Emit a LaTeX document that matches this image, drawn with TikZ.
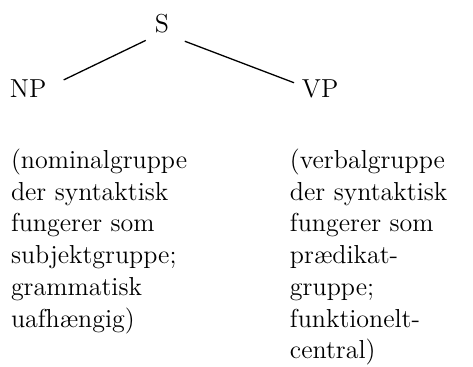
\documentclass[tikz,border=0pt]{standalone}
\tikzset{
  cat/.style = {inner sep=0pt, outer sep=0pt,
                font=\fontsize{13}{15.85}\selectfont},
  gloss/.style = {cat, align=left, anchor=north west},
  branch/.style = {line width=0.65pt}
}

\begin{document}
\begin{tikzpicture}[x=0.5pt, y=-0.5pt]
	\useasboundingbox (0,0) rectangle (473,366);

	% Tree
	\node[cat, anchor=base] (S) at (162,32) {S};
	\node[cat, anchor=base west] (NP) at (10,97) {NP};
	\node[cat, anchor=base west] (VP) at (302,97) {VP};

	% Branches
	\draw[branch, shorten <=9pt, shorten >=19.7pt] (S.south) -- (NP.base);
	\draw[branch, shorten <=12.2pt, shorten >=14pt] (S.south) -- (VP.mid);

	% Glosses
	\node[gloss] (NPgloss) at (11,149) {(nominalgruppe\\der syntaktisk\\fungerer som\\subjektgruppe;\\grammatisk\\uafhængig)};
	\node[gloss] (VPgloss) at (290,149) {(verbalgruppe\\der syntaktisk\\fungerer som\\prædikat-\\gruppe;\\funktionelt-\\central)};
\end{tikzpicture}
\end{document}
